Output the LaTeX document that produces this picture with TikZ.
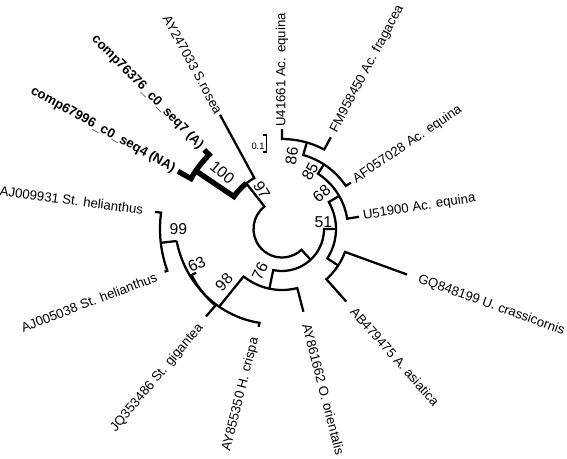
\documentclass[tikz,border=0pt]{standalone}
\usepackage{fontspec}
\setmainfont{Liberation Sans}
\usetikzlibrary{calc}

\tikzset{
  branch/.style={line width=1.7pt},
  boldbranch/.style={line width=4pt},
  taxon/.style={font=\fontsize{9.9}{11}\selectfont, inner sep=0pt},
  taxonbold/.style={inner sep=0pt, font=\fontsize{9.9}{11}\selectfont\bfseries},
  support/.style={font=\fontsize{11.8}{13}\selectfont, inner sep=0pt}
}

\begin{document}
\begin{tikzpicture}[x=0.75pt,y=0.75pt]
 \useasboundingbox (0,0) rectangle (567,458);
 \coordinate (origo) at (282,229);

 \begin{scope}[shift={(origo)}]

    % root circle
    \draw[branch] (128:58) -- (128:28.5) arc[start angle=128, end angle=313, radius=28.5] -- (313:42);

    % clade 97 / 100 (bold lineage)
    \draw[branch] (128:58) arc[start angle=128, end angle=118.5, radius=58] -- (118.5:130);
    \draw[boldbranch] (146:104) -- (146:58) arc[start angle=146, end angle=128, radius=58];
    \draw[boldbranch] (134.5:111) -- (134.5:104) arc[start angle=134.5, end angle=151, radius=104] -- (151:119);

    % lower part
    \draw[branch] (258:61) -- (258:42) arc[start angle=258, end angle=360, radius=42] -- (360:54);
    \draw[branch] (231:99.9) -- (231:61) arc[start angle=231, end angle=284.5, radius=61] -- (284.5:85.5);
    \draw[branch] plot[domain=186.5:256.5, samples=40] ({\x}:{106-9.5*(\x-186.5)/70}) -- (256.5:100.5);
    \draw[branch] (207:96.5) -- (207:101.5) arc[start angle=207, end angle=229, radius=101.5] -- (229:116);
    \draw[branch] (186.5:106) -- (186.5:122);
    \draw[branch] (172.3:128) -- (172.3:122) arc[start angle=172.3, end angle=200, radius=122] -- (200:125);

    % right part
    \draw[branch] (-33:67) -- (-33:54) arc[start angle=-33, end angle=30, radius=54] -- (30:66);
    \draw[branch] (-48.5:97) -- (-48.5:67) arc[start angle=-48.5, end angle=-20, radius=67] -- (-20:133);
    \draw[branch] (9:78) -- (9:66) arc[start angle=9, end angle=57, radius=66] -- (57:77);
    \draw[branch] (34:83) -- (34:77) arc[start angle=34, end angle=74, radius=77] -- (74:90);
    \draw[branch] (62:104) -- (62:90) arc[start angle=62, end angle=90, radius=90] -- (90:100);

    % scale bar
    \draw[line width=1.1pt] (-19,94) -- (-15.5,94) -- (-15.5,77) -- (-19,77);
    \node[font=\fontsize{7}{8}\selectfont, inner sep=0pt] (scale) at (-24,83) {0.1};

    % taxa
    \node[taxon, anchor=east, rotate=-61.5] (rosea) at (118.5:132) {AY247033 S.rosea};
    \node[taxonbold, anchor=east, rotate=-45.5] (seqa) at (134.5:115) {comp76376\_c0\_seq7 (A)};
    \node[taxonbold, anchor=east, rotate=-29] (seqna) at (151:123) {comp67996\_c0\_seq4 (NA)};
    \node[taxon, anchor=east, rotate=-7.8] (helia) at (172.2:140) {AJ009931 St. helianthus};
    \node[taxon, anchor=east, rotate=20.8] (helib) at (200.8:134) {AJ005038 St. helianthus};
    \node[taxon, anchor=east, rotate=50] (gigantea) at (230:126) {JQ353486 St. gigantea};
    \node[taxon, anchor=east, rotate=76] (crispa) at (256:112) {AY855350 H. crispa};
    \node[taxon, anchor=west, rotate=-75.5] (orientalis) at (-75.5:98) {AY861662 O. orientalis};
    \node[taxon, anchor=west, rotate=-48.5] (asiatica) at (-48.5:107) {AB479475 A. asiatica};
    \node[taxon, anchor=west, rotate=-20] (crassi) at (-20:145) {GQ848199 U. crassicornis};
    \node[taxon, anchor=west, rotate=9] (equinaa) at (9:82) {U51900 Ac. equina};
    \node[taxon, anchor=west, rotate=34] (equinab) at (34:87) {AF057028 Ac. equina};
    \node[taxon, anchor=west, rotate=62] (fragacea) at (62:110) {FM958450 Ac. fragacea};
    \node[taxon, anchor=west, rotate=90] (equinac) at (90:102) {U41661 Ac. equina};

    % bootstrap values
    \node[support, rotate=-40] (b100) at (-59.7,56.7) {100};
    \node[support, rotate=-60] (b97) at (-20.3,39) {97};
    \node[support] (b99) at (-103.7,-0.3) {99};
    \node[support, rotate=25] (b63) at (-85.3,-35.3) {63};
    \node[support, rotate=48] (b98) at (-58,-53.3) {98};
    \node[support, rotate=65] (b76) at (-22,-42.7) {76};
    \node[support] (b51) at (41.3,7.3) {51};
    \node[support, rotate=40] (b68) at (39.7,35.7) {68};
    \node[support, rotate=62] (b85) at (28,57.3) {85};
    \node[support, rotate=82] (b86) at (9.7,73) {86};

 \end{scope}

\end{tikzpicture}
\end{document}
